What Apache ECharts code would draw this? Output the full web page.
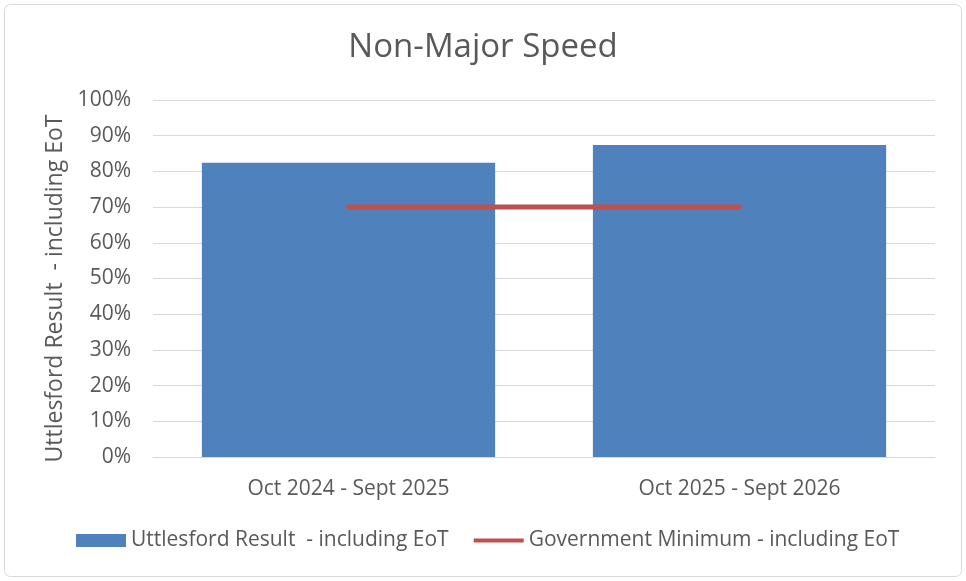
<!DOCTYPE html>
<html>
<head>
<meta charset="utf-8">
<script src="https://cdn.jsdelivr.net/npm/echarts@6/dist/echarts.min.js"></script>
<style>
  html, body { margin: 0; padding: 0; background: #fff; }
  #chart { width: 966px; height: 581px; }
</style>
</head>
<body>
<div id="chart"></div>
<script>
// values
var categories = ['Oct 2024 - Sept 2025', 'Oct 2025 - Sept 2026']
var uttlesfordResult = [82.4, 87.4]
var governmentMinimum = [70, 70]
var seriesNames = ['Uttlesford Result  - including EoT', 'Government Minimum - including EoT']

var chart = echarts.init(document.getElementById('chart'))
var font = '"Open Sans", "Noto Sans", sans-serif'
var grey = '#595959'

chart.setOption({
  animation: false,
  textStyle: { fontFamily: font },
  graphic: [{
    type: 'rect',
    shape: { x: 4.5, y: 4.5, width: 957, height: 572, r: 6 },
    style: { fill: 'none', stroke: '#D9D9D9', lineWidth: 1 },
    silent: true
  }],
  title: {
    text: 'Non-Major Speed',
    left: 'center',
    top: 26,
    textStyle: { fontFamily: font, fontSize: 33, fontWeight: 'normal', color: grey }
  },
  grid: { left: 153, right: 31, top: 100, bottom: 124 },
  legend: {
    left: 71,
    top: 525,
    itemWidth: 50,
    itemHeight: 13,
    itemGap: 25,
    textStyle: { fontFamily: font, fontSize: 21, color: grey },
    data: [
      { name: seriesNames[0], icon: 'rect' },
      { name: seriesNames[1], icon: 'path://M0,0h50v4h-50z' }
    ]
  },
  xAxis: {
    type: 'category',
    data: categories,
    axisTick: { show: false },
    axisLine: { lineStyle: { color: '#D9D9D9', width: 1 } },
    axisLabel: { color: grey, fontSize: 21, margin: 22, fontFamily: font }
  },
  yAxis: {
    type: 'value',
    min: 0,
    max: 100,
    interval: 10,
    name: 'Uttlesford Result  - including EoT',
    nameLocation: 'middle',
    nameRotate: 90,
    nameGap: 85,
    nameTextStyle: { color: grey, fontSize: 23, fontFamily: font, padding: [0, 20, 0, 0] },
    axisLine: { show: false },
    axisTick: { show: false },
    splitLine: { lineStyle: { color: '#D9D9D9', width: 1 } },
    axisLabel: { color: grey, fontSize: 21, margin: 22, formatter: '{value}%', fontFamily: font }
  },
  series: [
    {
      name: seriesNames[0],
      type: 'bar',
      data: uttlesfordResult,
      barCategoryGap: '25%',
      itemStyle: { color: '#4F81BD' }
    },
    {
      name: seriesNames[1],
      type: 'line',
      data: governmentMinimum,
      symbol: 'none',
      lineStyle: { color: '#C0504D', width: 5, cap: 'round' },
      itemStyle: { color: '#C0504D' }
    }
  ]
})
</script>
</body>
</html>
